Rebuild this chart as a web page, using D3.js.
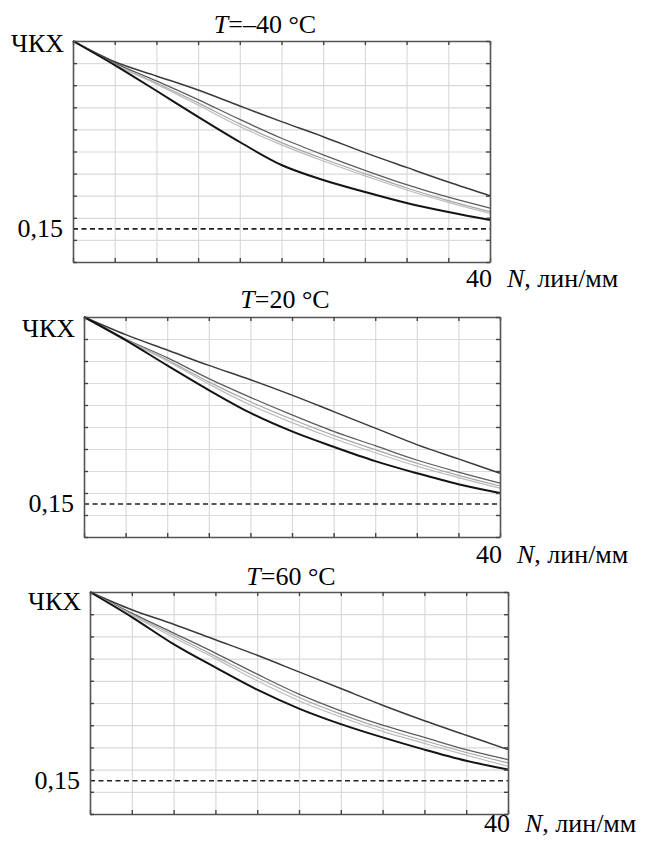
<!DOCTYPE html>
<html>
<head>
<meta charset="utf-8">
<script src="https://cdn.jsdelivr.net/npm/d3@7"></script>
<style>
body { margin: 0; background: #fff; }
</style>
</head>
<body>
<div id="chart"></div>
<script>
// spatial frequency N, lines/mm
var nValues = [0, 4, 8, 12, 16, 20, 24, 28, 32, 36, 40];
var xTicks = [0, 4, 8, 12, 16, 20, 24, 28, 32, 36, 40];
var yTicks = [0, 0.1, 0.2, 0.3, 0.4, 0.5, 0.6, 0.7, 0.8, 0.9, 1];
var threshold = 0.15;
var temperatures = ["–40", "20", "60"];

// MTF curves, top curve first, bottom (black) curve last
var mtfMinus40 = [
    [1, 0.906, 0.842, 0.778, 0.706, 0.635, 0.567, 0.495, 0.428, 0.362, 0.30],
    [1, 0.90, 0.82, 0.735, 0.645, 0.56, 0.485, 0.415, 0.35, 0.293, 0.244],
    [1, 0.895, 0.81, 0.72, 0.625, 0.54, 0.467, 0.40, 0.335, 0.278, 0.228],
    [1, 0.893, 0.805, 0.71, 0.613, 0.53, 0.457, 0.39, 0.326, 0.27, 0.22],
    [1, 0.891, 0.775, 0.657, 0.543, 0.439, 0.371, 0.317, 0.267, 0.226, 0.19]
];
var mtfPlus20 = [
    [1, 0.92, 0.85, 0.78, 0.715, 0.645, 0.57, 0.495, 0.42, 0.355, 0.29],
    [1, 0.90, 0.815, 0.72, 0.635, 0.555, 0.48, 0.415, 0.35, 0.295, 0.245],
    [1, 0.898, 0.805, 0.705, 0.615, 0.535, 0.462, 0.397, 0.335, 0.28, 0.232],
    [1, 0.895, 0.80, 0.695, 0.60, 0.52, 0.448, 0.383, 0.322, 0.27, 0.222],
    [1, 0.895, 0.78, 0.668, 0.564, 0.48, 0.41, 0.345, 0.29, 0.24, 0.20]
];
var mtfPlus60 = [
    [1, 0.92, 0.855, 0.785, 0.715, 0.64, 0.565, 0.49, 0.42, 0.355, 0.29],
    [1, 0.905, 0.815, 0.725, 0.63, 0.54, 0.465, 0.40, 0.345, 0.29, 0.245],
    [1, 0.90, 0.805, 0.71, 0.615, 0.525, 0.45, 0.385, 0.33, 0.277, 0.23],
    [1, 0.895, 0.795, 0.70, 0.60, 0.51, 0.437, 0.372, 0.318, 0.265, 0.215],
    [1, 0.887, 0.765, 0.66, 0.56, 0.475, 0.405, 0.345, 0.29, 0.24, 0.20]
];

var lineColors = ["#3a3a3a", "#5c5c5c", "#a6a6a6", "#bcbcbc", "#141414"];
var lineWidths = [1.5, 1.3, 1.2, 1.2, 2];

var panels = [
    {data: mtfMinus40, left: 73, top: 41, right: 490, bottom: 262, titleX: 265, titleY: 33, yLabY: 52, nLabY: 287},
    {data: mtfPlus20, left: 84, top: 317, right: 500, bottom: 537, titleX: 285, titleY: 308, yLabY: 337, nLabY: 563},
    {data: mtfPlus60, left: 90, top: 592, right: 508, bottom: 814, titleX: 291, titleY: 585, yLabY: 610, nLabY: 832}
];

var fontFamily = "'Liberation Serif', 'Times New Roman', Times, serif";
var fontSize = 26;

//Make an SVG Container
var svg = d3.select("#chart").append("svg")
    .attr("width", 647)
    .attr("height", 843)
    .attr("font-family", fontFamily);

svg.append("rect")
    .attr("width", 647)
    .attr("height", 843)
    .attr("fill", "#fff");

panels.forEach(function(p, i) {
    var x = d3.scaleLinear().domain([0, 40]).range([p.left, p.right]);
    var y = d3.scaleLinear().domain([0, 1]).range([p.bottom, p.top]);
    var w = p.right - p.left;
    var h = p.bottom - p.top;
    var g = svg.append("g");

    // grid
    g.append("g")
        .attr("transform", "translate(0," + p.bottom + ")")
        .call(d3.axisBottom(x).tickValues(xTicks).tickSize(-h).tickFormat(""))
        .call(function(s) {
            s.select(".domain").remove();
            s.selectAll("line").attr("stroke", "#dadada").attr("stroke-width", 1.2);
        });
    g.append("g")
        .attr("transform", "translate(" + p.left + ",0)")
        .call(d3.axisLeft(y).tickValues(yTicks).tickSize(-w).tickFormat(""))
        .call(function(s) {
            s.select(".domain").remove();
            s.selectAll("line").attr("stroke", "#dadada").attr("stroke-width", 1.2);
        });

    // threshold line
    g.append("line")
        .attr("x1", p.left)
        .attr("x2", p.right)
        .attr("y1", y(threshold))
        .attr("y2", y(threshold))
        .attr("stroke", "#222")
        .attr("stroke-width", 1.6)
        .attr("stroke-dasharray", "5,3.5");

    // curves
    var line = d3.line()
        .x(function(d, k) { return x(nValues[k]); })
        .y(function(d) { return y(d); })
        .curve(d3.curveCatmullRom.alpha(0.5));

    p.data.forEach(function(series, k) {
        g.append("path")
            .datum(series)
            .attr("fill", "none")
            .attr("stroke", lineColors[k])
            .attr("stroke-width", lineWidths[k])
            .attr("d", line);
    });

    // frame ticks, pointing inwards
    var axes = [
        {ax: d3.axisBottom(x).tickValues(xTicks), tr: "translate(0," + p.bottom + ")"},
        {ax: d3.axisTop(x).tickValues(xTicks), tr: "translate(0," + p.top + ")"},
        {ax: d3.axisLeft(y).tickValues(yTicks), tr: "translate(" + p.left + ",0)"},
        {ax: d3.axisRight(y).tickValues(yTicks), tr: "translate(" + p.right + ",0)"}
    ];
    axes.forEach(function(a) {
        g.append("g")
            .attr("transform", a.tr)
            .call(a.ax.tickSize(-4).tickSizeOuter(0).tickFormat(""))
            .call(function(s) {
                s.select(".domain").attr("stroke", "#555").attr("stroke-width", 1.6);
                s.selectAll("line").attr("stroke", "#444").attr("stroke-width", 1.4);
            });
    });

    // title
    var title = g.append("text")
        .attr("x", p.titleX)
        .attr("y", p.titleY)
        .attr("text-anchor", "middle")
        .attr("font-family", fontFamily)
        .attr("font-size", fontSize)
        .attr("fill", "#000");
    title.append("tspan").attr("font-style", "italic").text("T");
    title.append("tspan").text("=" + temperatures[i] + " °C");

    // y labels
    g.append("text")
        .attr("x", p.left - 9)
        .attr("y", p.yLabY)
        .attr("text-anchor", "end")
        .attr("font-family", fontFamily)
        .attr("font-size", fontSize)
        .attr("fill", "#000")
        .text("ЧКХ");

    g.append("text")
        .attr("x", p.left - 10)
        .attr("y", y(threshold) + 8)
        .attr("text-anchor", "end")
        .attr("font-family", fontFamily)
        .attr("font-size", fontSize)
        .attr("fill", "#000")
        .text("0,15");

    // x labels
    g.append("text")
        .attr("x", p.right + 2)
        .attr("y", p.nLabY)
        .attr("text-anchor", "end")
        .attr("font-family", fontFamily)
        .attr("font-size", fontSize)
        .attr("fill", "#000")
        .text("40");

    var nLab = g.append("text")
        .attr("x", p.right + 17)
        .attr("y", p.nLabY)
        .attr("font-family", fontFamily)
        .attr("font-size", fontSize)
        .attr("fill", "#000");
    nLab.append("tspan").attr("font-style", "italic").text("N");
    nLab.append("tspan").text(", лин/мм");
});
</script>
</body>
</html>
